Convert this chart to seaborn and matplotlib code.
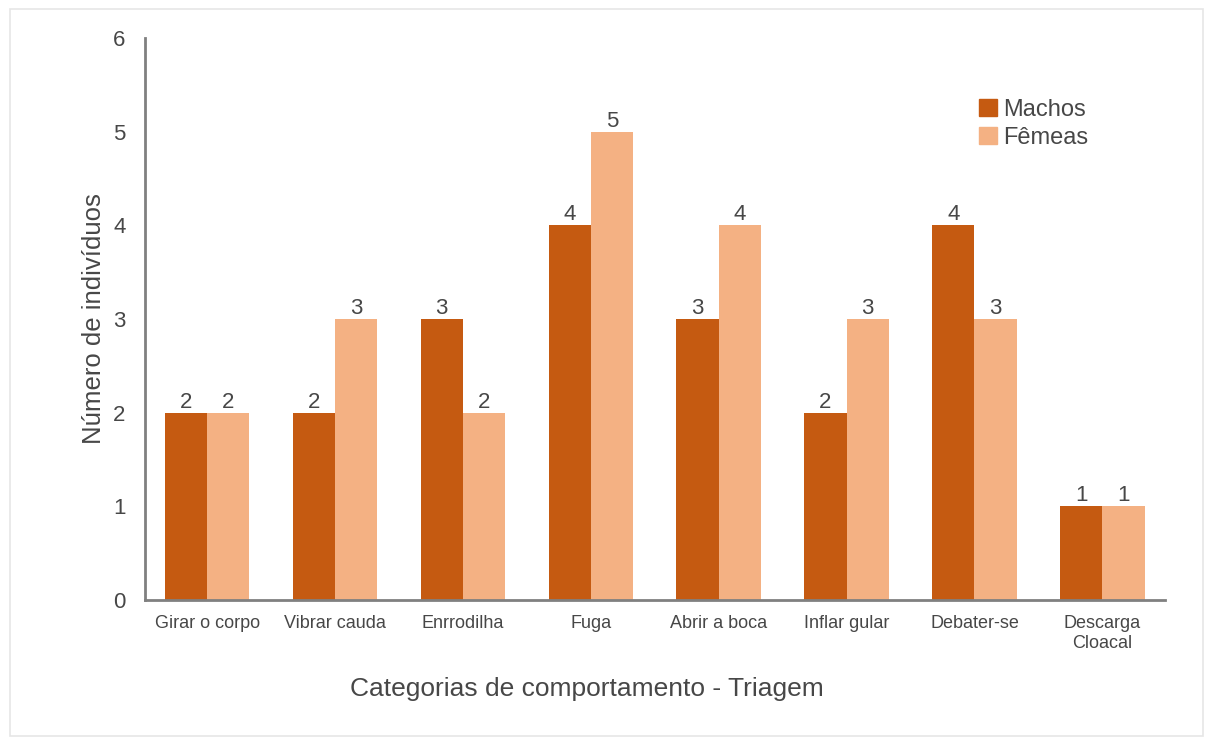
import matplotlib
matplotlib.use("Agg")
import matplotlib.pyplot as plt
import seaborn as sns
import pandas as pd

categorias = ["Girar o corpo", "Vibrar cauda", "Enrrodilha", "Fuga",
              "Abrir a boca", "Inflar gular", "Debater-se", "Descarga\nCloacal"]
machos = [2, 2, 3, 4, 3, 2, 4, 1]
femeas = [2, 3, 2, 5, 4, 3, 3, 1]
grupos = ["Machos", "Fêmeas"]
cores = ["#C55A11", "#F4B183"]

df = pd.DataFrame({
    "categoria": categorias * 2,
    "valor": machos + femeas,
    "sexo": [grupos[0]] * len(categorias) + [grupos[1]] * len(categorias),
})

sns.set_theme(style="white")
plt.rcParams["font.family"] = ["Liberation Sans", "DejaVu Sans"]
texto = "#474747"

fig = plt.figure(figsize=(12.05, 7.4), dpi=100)
# light frame around the whole figure
fig.patches.append(plt.Rectangle((0.008, 0.006), 0.990, 0.982, transform=fig.transFigure,
                                 fill=False, edgecolor="#e6e6e6", linewidth=1.2))
ax = fig.add_axes([0.1203, 0.1892, 0.8465, 0.7594])

sns.barplot(data=df, x="categoria", y="valor", hue="sexo", hue_order=grupos,
            palette=cores, width=0.66, saturation=1, linewidth=0, ax=ax, legend=False)

for cont in ax.containers:
    ax.bar_label(cont, fontsize=16, color=texto, padding=0)

ax.set_ylim(0, 6)
ax.set_xlim(-0.486, 7.49)
ax.set_yticks(range(0, 7))
ax.tick_params(axis="y", labelsize=16, labelcolor=texto, length=0, pad=14)
ax.tick_params(axis="x", labelsize=13, labelcolor=texto, length=0, pad=11)

for s in ["top", "right"]:
    ax.spines[s].set_visible(False)
for s in ["left", "bottom"]:
    ax.spines[s].set_color("#808080")
    ax.spines[s].set_linewidth(2)

ax.set_xlabel("Categorias de comportamento - Triagem", fontsize=19, color=texto)
ax.xaxis.set_label_coords(0.433, -0.137)
ax.set_ylabel("Número de indivíduos", fontsize=18.5, color=texto, labelpad=5)

handles = [plt.Rectangle((0, 0), 1, 1, color=c) for c in cores]
ax.legend(handles, grupos, loc="upper left", bbox_to_anchor=(0.797, 0.93), frameon=False,
          fontsize=17, handlelength=0.75, handleheight=0.75, handletextpad=0.25,
          labelspacing=0.25, labelcolor=texto)

fig.savefig("out.png", dpi=100, facecolor="white")
